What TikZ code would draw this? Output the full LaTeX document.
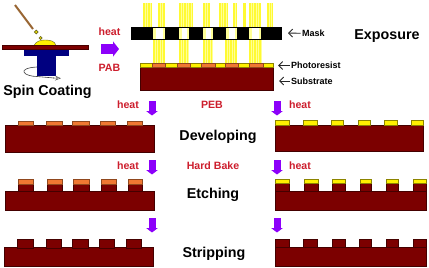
\documentclass[tikz,border=0pt]{standalone}
\usepackage{fontspec}
\setmainfont{Liberation Sans}
\usetikzlibrary{arrows.meta}
\definecolor{wafer}{RGB}{124,0,0}
\definecolor{exposed}{RGB}{240,120,50}
\definecolor{resist}{RGB}{255,240,0}
\definecolor{heatred}{RGB}{205,30,45}
\definecolor{violet}{RGB}{140,0,250}
\definecolor{navy}{RGB}{0,0,128}
\definecolor{lightpale}{RGB}{255,255,150}
\definecolor{lightbright}{RGB}{255,250,50}
\tikzset{
  waferbody/.style={fill=wafer,draw=black!45!wafer,line width=.3pt},
  orangecap/.style={fill=exposed,draw=black!40!exposed,line width=.3pt},
  yellowcap/.style={fill=resist,draw=black!45!resist,line width=.3pt},
  redlabel/.style={text=heatred,font=\bfseries\fontsize{10.6}{11}\selectfont,inner sep=0pt},
  steplabel/.style={text=black,font=\bfseries\fontsize{14.3}{15}\selectfont,inner sep=0pt},
  partlabel/.style={text=black,font=\bfseries\fontsize{9}{10}\selectfont,inner sep=0pt,anchor=west},
  leader/.style={-{Straight Barb[length=4pt,width=8pt]},line width=.9pt,black!85},
  flowdown/.style={-{Triangle[length=4.5pt,width=11.5pt]},line width=7pt,violet},
  flowright/.style={-{Triangle[length=6pt,width=15pt]},line width=10pt,violet}
}
% vertical band of exposure light made of fine stripes
\newcommand{\lightband}[4]{%
  \fill[lightpale] (#1,#3) rectangle (#2,#4);
  \pgfmathsetmacro{\stepx}{#1+2.6}
  \foreach \s in {#1,\stepx,...,#2}{
    \fill[lightbright] (\s,#3) rectangle ({min(\s+1.5,#2)},#4);
  }%
}
% row of caps or teeth, given as a list of left/right edges
\newcommand{\capsrow}[4]{%
  \foreach \a/\b in {#4}{ \path[#1] (\a,#2) rectangle (\b,#3); }%
}
\begin{document}
\begin{tikzpicture}[x=1pt,y=-1pt]
\useasboundingbox (0,0) rectangle (429,268);
\fill[white] (0,0) rectangle (429,268);

% spin coater
\draw[line width=2pt,draw=brown!80!black] (15,5) -- (33,29);
\path[fill=yellow!85!olive,draw=olive!70!black,line width=.7pt] (36.3,32) circle (1.9);
\path[fill=yellow!85!olive,draw=olive!70!black,line width=.7pt] (40.6,38) circle (1.6);
\path[fill=yellow,draw=olive!70!black,line width=.4pt] (34,45.5) .. controls (36,41) and (41,40) .. (45,40) .. controls (50,40) and (55,41) .. (56,45.5) -- cycle;
\fill[navy] (24,49) rectangle (69,55.5);
\fill[navy] (37,55) rectangle (55.5,75.5);
\path[fill=wafer,draw=black!40!wafer,line width=.4pt] (2,45.5) rectangle (88,49);
\draw[line width=.6pt,black!75] (37,67) .. controls (27,67.5) and (23,70) .. (24,72) .. controls (25,75) and (32,76.5) .. (37,76.5) -- (54,78);
\draw[line width=.6pt,black!60,-{Stealth[length=6pt,width=5pt,open,fill=white]}] (53,78) -- (61,78.3);
\node[steplabel] (spin) at (47.5,91.5) {Spin Coating};

% first bake
\node[redlabel] (heatA) at (109.5,32) {heat};
\node[redlabel] (pab) at (109.5,68) {PAB};
\coordinate (flowAstart) at (101,49);
\coordinate (flowAend) at (119,49);
\draw[flowright] (flowAstart) -- (flowAend);

% exposure light above and below the mask
\foreach \a/\b in {143/151,158/165,179/193,203/210,219/227,233/237,243/245,249/261,267/273}{
  \lightband{\a}{\b}{3}{27}
}
\foreach \a/\b in {153/165,179/189,203/213,225/237,249/262}{
  \lightband{\a}{\b}{39}{63}
}

% mask with its openings
\fill[black] (131,27) rectangle (282,39.5);
\foreach \a/\b in {153/165,179/189,203/213,226/237,249/261}{
  \fill[white] (\a,27.5) rectangle (\b,39);
  \fill[lightpale] (\a,27.5) rectangle (\a+2.5,39);
  \fill[lightpale] (\b-2.5,27.5) rectangle (\b,39);
}

% exposed resist on substrate
\path[waferbody] (140,67.5) rectangle (273,90.5);
\path[yellowcap] (140,63) rectangle (273,67.5);
\capsrow{orangecap}{63}{67.5}{152.5/165.5,177.5/190.5,201/215,225/238.5,249/263}

\coordinate (maskTip) at (288,33);
\coordinate (resistTip) at (278,65.5);
\coordinate (substrateTip) at (279,81);
\node[partlabel] (maskLabel) at (302,33.3) {Mask};
\node[partlabel] (resistLabel) at (291,65.5) {Photoresist};
\node[partlabel] (substrateLabel) at (291,81) {Substrate};
\draw[leader] (maskLabel.west) ++(-1.5,0) -- (maskTip);
\draw[leader] (resistLabel.west) ++(-1.5,0) -- (resistTip);
\draw[leader] (substrateLabel.west) ++(-1.5,0) -- (substrateTip);
\node[steplabel] (exposure) at (387,36) {Exposure};

% post exposure bake
\node[redlabel] (heatB) at (128,105) {heat};
\node[redlabel] (peb) at (212,105) {PEB};
\node[redlabel] (heatC) at (300,105) {heat};
\coordinate (b1s) at (152,101); \coordinate (b1e) at (152,115.5);
\coordinate (b2s) at (277,101); \coordinate (b2e) at (277,115.5);
\draw[flowdown] (b1s) -- (b1e);
\draw[flowdown] (b2s) -- (b2e);

% developing
\path[waferbody] (5,125.5) rectangle (154,152);
\capsrow{orangecap}{121.5}{125.5}{18.5/33,46/62,72.5/89,100/115,127/142}
\path[waferbody] (275.5,125) rectangle (423,151);
\capsrow{yellowcap}{120.5}{125}{275.5/289,303.5/317,331.5/343,358.5/370,384.5/397,411.5/423}
\node[steplabel] (developing) at (218,136.5) {Developing};

% hard bake
\node[redlabel] (heatD) at (128,165.5) {heat};
\node[redlabel] (hard) at (213,166) {Hard Bake};
\node[redlabel] (heatE) at (300,165.5) {heat};
\coordinate (c1s) at (152,160); \coordinate (c1e) at (152,174.5);
\coordinate (c2s) at (277,160); \coordinate (c2e) at (277,174.5);
\draw[flowdown] (c1s) -- (c1e);
\draw[flowdown] (c2s) -- (c2e);

% etching
\path[waferbody] (5,191) rectangle (154,210);
\capsrow{waferbody}{184}{191.3}{18.5/33.5,47/62,73/89,101/116,128/142}
\capsrow{orangecap}{179.5}{184}{18.5/33.5,47/62,73/89,101/116,128/142}
\path[waferbody] (275,191) rectangle (426,210);
\capsrow{waferbody}{183.5}{191.3}{275/289,304/318,332/345,360/371,386/398,413/426}
\capsrow{yellowcap}{179}{183.5}{275/289,304/318,332/345,360/371,386/398,413/426}
\node[steplabel] (etching) at (213,195) {Etching};

% last transfer arrows
\coordinate (d1s) at (152,218); \coordinate (d1e) at (152,232.5);
\coordinate (d2s) at (277,218); \coordinate (d2e) at (277,232.5);
\draw[flowdown] (d1s) -- (d1e);
\draw[flowdown] (d2s) -- (d2e);

% stripping
\path[waferbody] (4,247.5) rectangle (153,266);
\capsrow{waferbody}{239.5}{247.8}{17.5/33,46/61,72/88,99/114,126/141}
\path[waferbody] (275,247) rectangle (426,266);
\capsrow{waferbody}{239.5}{247.3}{275/289,303.5/317,332/345,359.5/371,386/398,413/426}
\node[steplabel] (stripping) at (214,253.5) {Stripping};
\end{tikzpicture}
\end{document}
